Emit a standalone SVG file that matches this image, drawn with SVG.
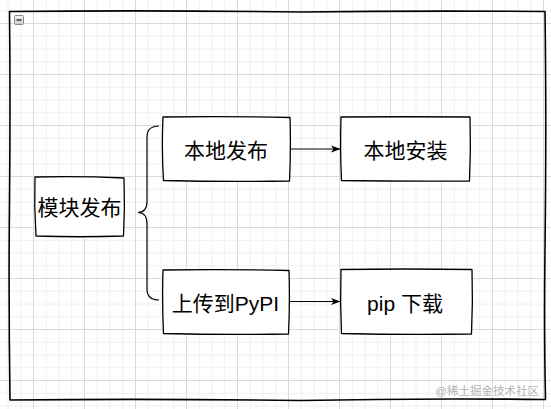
<svg xmlns="http://www.w3.org/2000/svg" width="551" height="409" viewBox="0 0 551 409">
  <defs>
    <pattern id="grid" patternUnits="userSpaceOnUse" x="-18" y="-28" width="51" height="51">
      <path d="M13.25,0V51M26,0V51M38.75,0V51M0,13.25H51M0,26H51M0,38.75H51" stroke="#f0f0f0" stroke-width="1" fill="none"/>
      <path d="M0.5,0V51M0,0.5H51" stroke="#dadada" stroke-width="1" fill="none"/>
    </pattern>
    <linearGradient id="btn" x1="0" y1="0" x2="0" y2="1">
      <stop offset="0" stop-color="#f4f4f4"/>
      <stop offset="1" stop-color="#c8c8c8"/>
    </linearGradient>
    <marker id="arrow" markerWidth="10" markerHeight="8" refX="9" refY="4" orient="auto" markerUnits="userSpaceOnUse">
      <path d="M0,0.5 L9.5,4 L0,7.5 L2.5,4 Z" fill="#000"/>
    </marker>
    <style>
      .box { fill: #fff; stroke: #000; stroke-width: 1.3; stroke-linejoin: round; }
      .frame { fill: none; stroke: #000; stroke-width: 1.6; stroke-linejoin: round; }
      .edge { fill: none; stroke: #000; stroke-width: 1.2; }
      .label { font-family: "Liberation Sans", "Noto Sans CJK SC", sans-serif; font-size: 21px; fill: #000; text-anchor: middle; dominant-baseline: central; }
      .wm { font-family: "Liberation Sans", "Noto Sans CJK SC", sans-serif; font-size: 11.5px; fill: #b4b4b4; text-anchor: end; dominant-baseline: central; }
    </style>
  </defs>

  <rect x="0" y="0" width="551" height="409" fill="#fff"/>
  <rect x="0" y="0" width="551" height="409" fill="url(#grid)"/>

  <g id="frame">
    <path class="frame" d="M9.5,11.5 Q150,10 300,12 Q420,10.5 545,11.5 Q546.5,120 545,250 Q544,330 545.5,399.5 Q420,398 300,400.5 Q150,398.5 10,400 Q8.5,300 9.5,200 Q10.5,100 9.5,11.5 Z"/>
    <rect x="14.5" y="15.5" width="9" height="9" rx="1" fill="url(#btn)" stroke="#8a8a8a" stroke-width="1"/>
    <path d="M16.5,20H21.5" stroke="#333" stroke-width="1.5"/>
  </g>

  <g id="connectors">
    <path class="edge" d="M159,126 Q147,126 147,137 L147,201 Q147,212.5 138,212.5 Q147,212.5 147,224 L147,289 Q147,300 159,300"/>
    <path class="edge" d="M290,149 L340,149" marker-end="url(#arrow)"/>
    <path class="edge" d="M289,301.5 L340,301.5" marker-end="url(#arrow)"/>
  </g>

  <g id="node-module">
    <path class="box" d="M35,177 Q80,176 124,178 Q125,207 123.5,236 Q80,237.5 36,236 Q34,206 35,177 Z"/>
    <text class="label" x="79.5" y="207">模块发布</text>
  </g>

  <g id="node-local-publish">
    <path class="box" d="M163,117 Q226,116 290,117.5 Q291,150 289.5,181 Q226,182 163.5,180.5 Q161.5,150 163,117 Z"/>
    <text class="label" x="226" y="150">本地发布</text>
  </g>

  <g id="node-local-install">
    <path class="box" d="M341,117 Q405,116.5 470,117 Q471,150 469.5,181 Q405,181.5 341.5,180.5 Q340,150 341,117 Z"/>
    <text class="label" x="405.5" y="150">本地安装</text>
  </g>

  <g id="node-upload">
    <path class="box" d="M163,270 Q226,269 289,270.5 Q290,302 288.5,334 Q226,335 163.5,333.5 Q162,302 163,270 Z"/>
    <text class="label" x="225.5" y="303">上传到PyPI</text>
  </g>

  <g id="node-pip">
    <path class="box" d="M341,269.5 Q406,268.5 472,269.5 Q473,302 471.5,334 Q406,335 341.5,333.5 Q340,302 341,269.5 Z"/>
    <text class="label" x="405" y="303">pip 下载</text>
  </g>

  <text class="wm" x="539" y="391">@稀土掘金技术社区</text>
</svg>
